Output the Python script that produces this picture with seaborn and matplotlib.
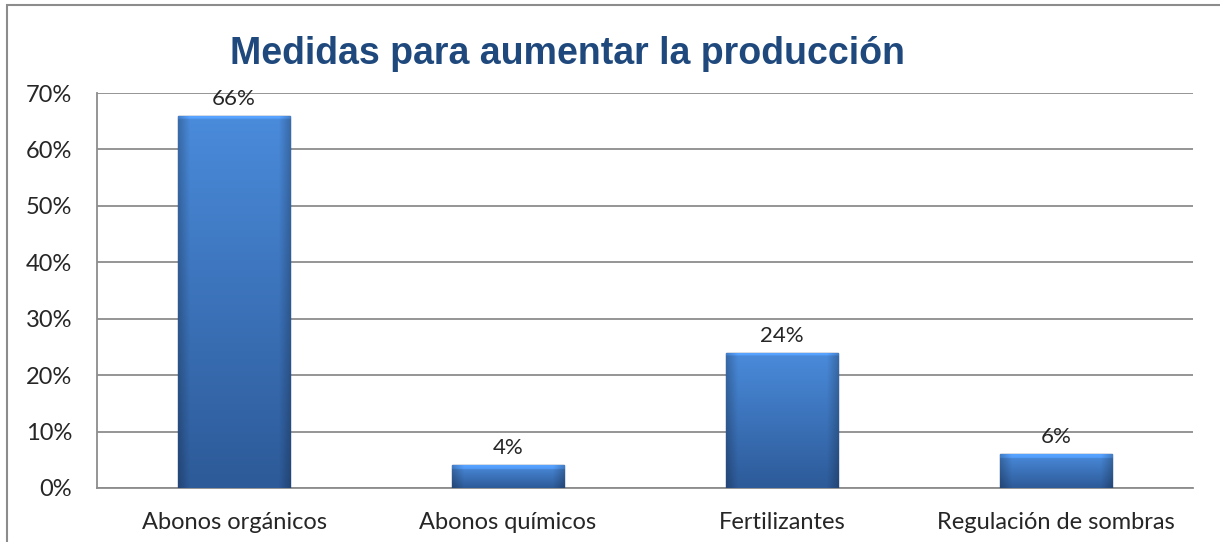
import matplotlib
matplotlib.use("Agg")
import matplotlib.pyplot as plt
import seaborn as sns
import pandas as pd
import numpy as np
from matplotlib.patches import Rectangle
from matplotlib.colors import to_rgb

# data
categories = ["Abonos orgánicos", "Abonos químicos", "Fertilizantes", "Regulación de sombras"]
values = [66, 4, 24, 6]
y_ticks = [0, 10, 20, 30, 40, 50, 60, 70]
y_tick_labels = ["0%", "10%", "20%", "30%", "40%", "50%", "60%", "70%"]
title = "Medidas para aumentar la producción"

df = pd.DataFrame({"categoria": categories, "valor": values})

sns.set_style("white")
plt.rcParams["font.family"] = ["Lato", "DejaVu Sans"]

fig = plt.figure(figsize=(12.2, 5.42), dpi=100)
ax = fig.add_axes([97 / 1220, 1 - 488 / 542, (1193 - 97) / 1220, (488 - 93) / 542])

sns.barplot(data=df, x="categoria", y="valor", color="#3A70BA", width=0.41,
            edgecolor="#24497D", linewidth=1.0, saturation=1, ax=ax, zorder=3)

ax.set_ylim(0, 70)
ax.set_xlim(-0.5, len(categories) - 0.5)
ax.set_xlabel("")
ax.set_ylabel("")


def bar_gradient(ax, patch):
    # vertical blue gradient with darker sides and a light bevel on top
    x0, y0 = patch.get_x(), patch.get_y()
    w, h = patch.get_width(), patch.get_height()
    ny, nx = 200, 60
    top = np.array(to_rgb("#4A8BDB"))
    bottom = np.array(to_rgb("#2D5A98"))
    t = np.linspace(0, 1, ny)[:, None, None]
    img = bottom * (1 - t) + top * t
    img = np.repeat(img, nx, axis=1)
    xs = np.linspace(-1, 1, nx)
    side = 1 - 0.22 * np.clip((np.abs(xs) - 0.8) / 0.2, 0, 1)
    img = img * side[None, :, None]
    bevel_px = max(1, int(ny * min(0.4, 4 / (h * 5.64))))
    img[-bevel_px:, :, :] = np.clip(img[-bevel_px:, :, :] * 1.18, 0, 1)
    im = ax.imshow(img, extent=[x0, x0 + w, y0, y0 + h], origin="lower",
                   aspect="auto", zorder=3.5, interpolation="bilinear")
    im.set_clip_path(patch)


for p in ax.patches:
    bar_gradient(ax, p)
ax.set_ylim(0, 70)
ax.set_xlim(-0.5, len(categories) - 0.5)

ax.set_yticks(y_ticks)
ax.set_yticklabels(y_tick_labels, fontsize=17)
ax.yaxis.grid(True, color="#8C8C8C", linewidth=1.3, zorder=0)
ax.set_axisbelow(True)

# category separators as tick marks
ax.set_xticks([i - 0.5 for i in range(len(categories) + 1)], minor=True)
ax.set_xticks(range(len(categories)))
ax.set_xticklabels(categories, fontsize=17)
ax.tick_params(axis="x", which="major", length=0, pad=17)
ax.tick_params(axis="x", which="minor", length=7, color="#8C8C8C", width=1.3, direction="out")
ax.tick_params(axis="y", length=0, pad=18)

for side in ["top", "right"]:
    ax.spines[side].set_visible(False)
for side in ["left", "bottom"]:
    ax.spines[side].set_color("#8C8C8C")
    ax.spines[side].set_linewidth(1.3)

for i, v in enumerate(values):
    ax.annotate(f"{v}%", (i, v), xytext=(0, 5), textcoords="offset points",
                ha="center", va="bottom", fontsize=16)

fig.text(568 / 1220, 1 - 54 / 542, title, ha="center", va="center",
         fontsize=27, fontweight="bold", color="#1F497D",
         family=["Liberation Sans", "DejaVu Sans"])

# outer chart border
fig.patches.append(Rectangle((7 / 1220, -0.02), 1.1, 1 - 5 / 542 + 0.02,
                             transform=fig.transFigure, fill=False,
                             edgecolor="#8C8C8C", linewidth=1.5))

fig.savefig("out.png", dpi=100)
